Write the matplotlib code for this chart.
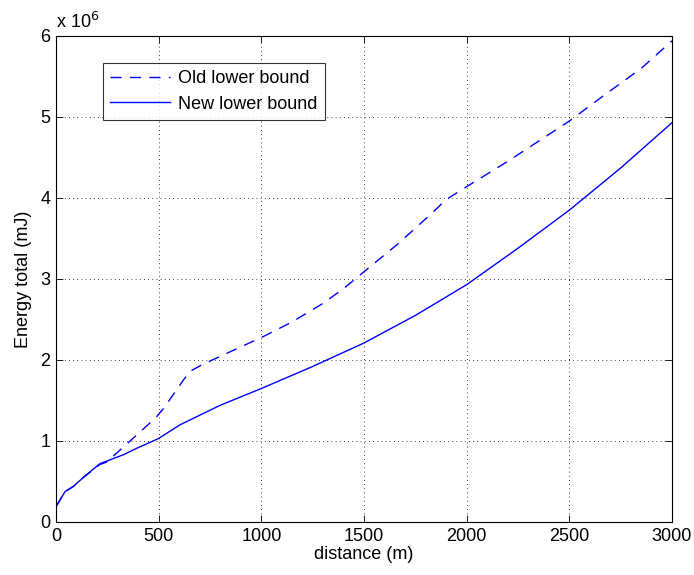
import matplotlib
matplotlib.use("Agg")
import matplotlib.pyplot as plt
from matplotlib.ticker import FuncFormatter, MultipleLocator
import numpy as np

plt.rcParams['font.family'] = ['Liberation Sans', 'DejaVu Sans']

# distance (m) and energy (units of 1e6 mJ)
new_x = [0, 44, 85, 133, 214, 328, 393, 499, 604, 799, 1002, 1250, 1500, 1750, 2000, 2250, 2500, 2750, 3000]
new_y = [0.19, 0.375, 0.44, 0.55, 0.72, 0.83, 0.91, 1.03, 1.20, 1.44, 1.65, 1.92, 2.21, 2.55, 2.93, 3.38, 3.85, 4.37, 4.93]

old_x = [0, 44, 85, 133, 214, 247, 409, 490, 523, 620, 653, 710, 847, 1010, 1150, 1301, 1400, 1500, 1659, 1821, 1900, 2000, 2211, 2500, 2665, 2850, 3000]
old_y = [0.19, 0.375, 0.44, 0.55, 0.71, 0.74, 1.11, 1.30, 1.40, 1.75, 1.86, 1.94, 2.10, 2.29, 2.47, 2.70, 2.88, 3.09, 3.42, 3.79, 3.98, 4.14, 4.47, 4.95, 5.26, 5.60, 5.94]

scale = 1e6
fs = 13
fig = plt.figure(figsize=(6.94, 5.75), dpi=100)
ax = fig.add_axes([0.0807, 0.0922, 0.8876, 0.8452])

ax.plot(old_x, np.array(old_y) * scale, color='#0000ff', linestyle=(0, (8, 6)), lw=1.0,
        label='Old lower bound')
ax.plot(new_x, np.array(new_y) * scale, color='#0000ff', linestyle='-', lw=1.0,
        label='New lower bound')

ax.set_xlim(0, 3000)
ax.set_ylim(0, 6e6)
ax.xaxis.set_major_locator(MultipleLocator(500))
ax.yaxis.set_major_locator(MultipleLocator(1e6))
ax.yaxis.set_major_formatter(FuncFormatter(lambda v, p: f"{v/scale:g}"))
ax.tick_params(direction='in', top=True, right=True, labelsize=fs, length=5, width=0.6, pad=4)
ax.grid(True, color='black', linestyle=(0, (1, 4)), linewidth=0.6)
for s in ax.spines.values():
    s.set_linewidth(0.8)

ax.set_xlabel('distance (m)', fontsize=fs, labelpad=1)
ax.set_ylabel('Energy total (mJ)', fontsize=fs, labelpad=6)
ax.text(0.0, 1.008, r'x 10$^6$', transform=ax.transAxes, fontsize=fs, ha='left', va='bottom')

leg = ax.legend(loc='upper left', bbox_to_anchor=(0.0763, 0.944), fontsize=fs, frameon=True,
                fancybox=False, edgecolor='black', handlelength=3.3, borderpad=0.4,
                labelspacing=0.45, handletextpad=0.45, borderaxespad=0)
leg.get_frame().set_linewidth(0.8)

fig.savefig('out.png', dpi=100)
